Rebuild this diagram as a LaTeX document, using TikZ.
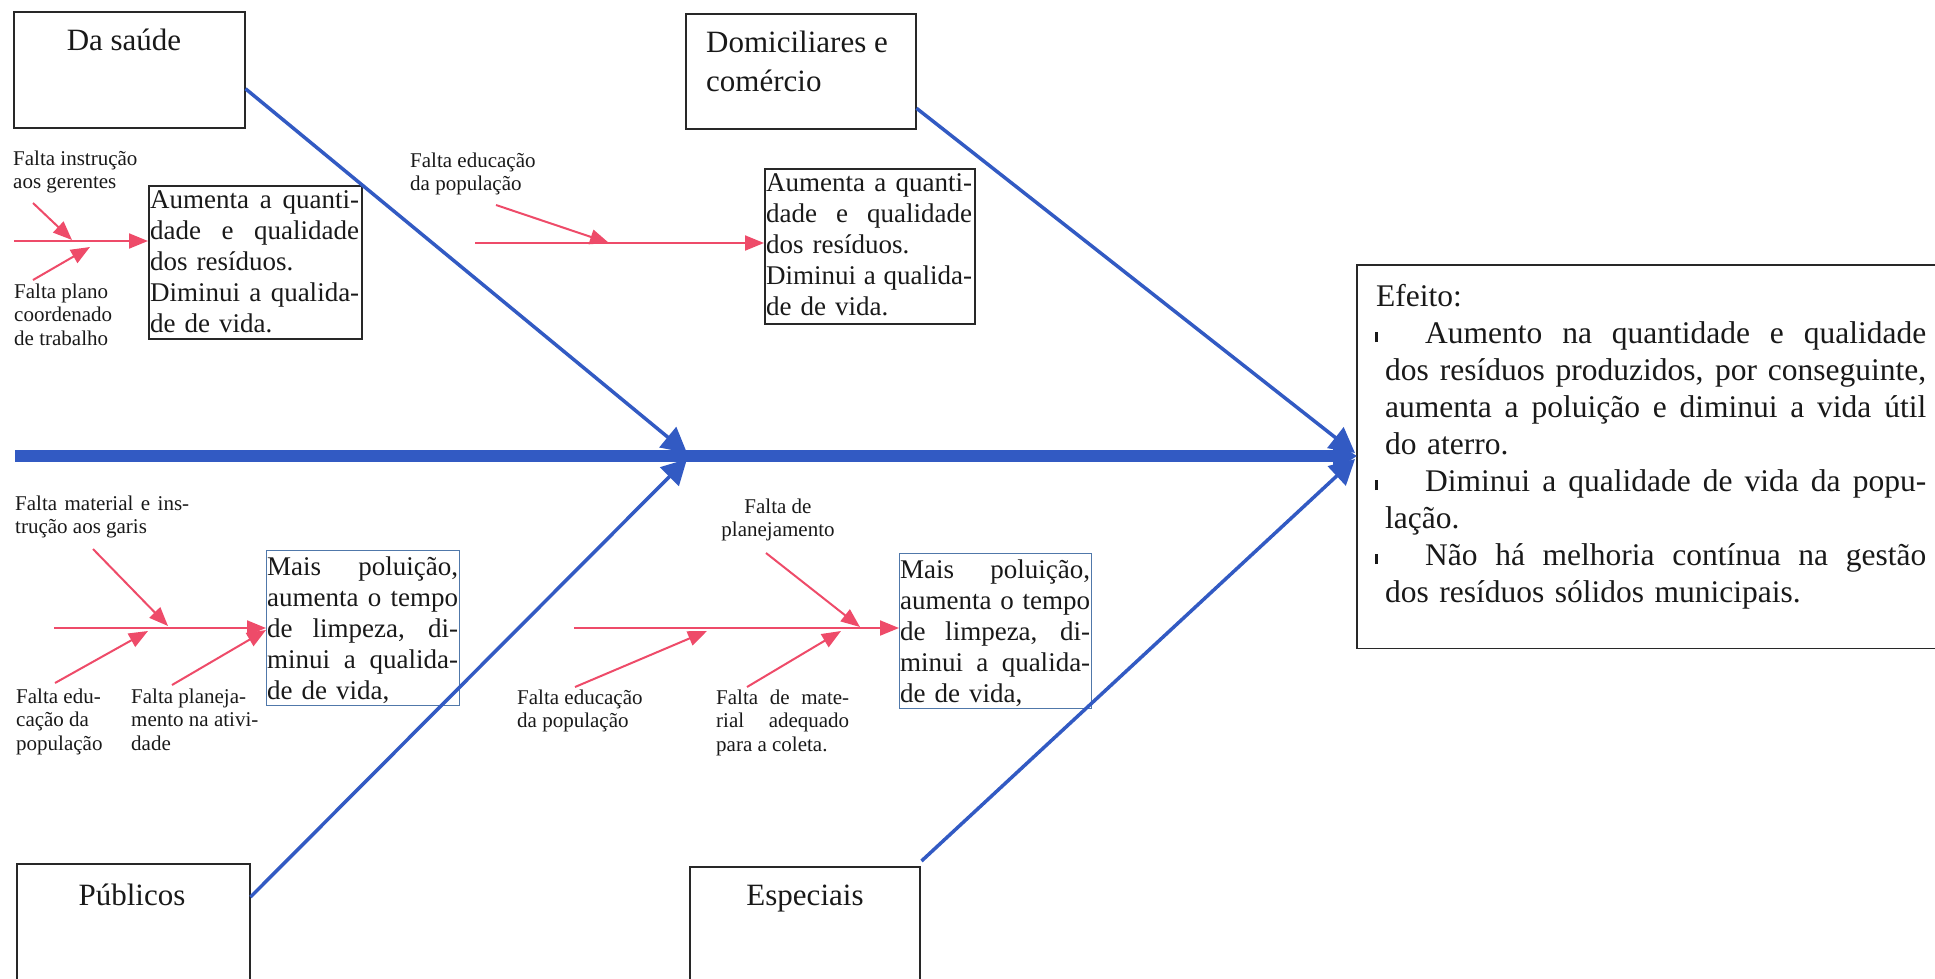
\documentclass[tikz,border=0pt]{standalone}
\usepackage{fontspec}
\setmainfont{Liberation Serif}
\usetikzlibrary{arrows.meta,calc}
\definecolor{bonecol}{RGB}{50,90,195}
\definecolor{redcol}{RGB}{238,75,105}
\definecolor{boxline}{RGB}{40,40,40}
\definecolor{bluebox}{RGB}{80,120,170}
\definecolor{txt}{RGB}{25,25,25}
\newcommand{\bul}{\hspace*{-10pt}\rule[1pt]{2.5pt}{10pt}\hspace*{47.5pt}}
\newcommand{\jl}[2]{\makebox[#1][s]{\spaceskip=0pt\xspaceskip=0pt\relax #2}}
\begin{document}
\begin{tikzpicture}[x=1pt,y=-1pt,
  every node/.style={text=txt},
  titlebox/.style={draw=boxline, line width=1.5pt, inner sep=0pt, anchor=north west},
  effbox/.style={draw=boxline, line width=1.5pt, inner sep=0pt, anchor=north west},
  effboxb/.style={draw=bluebox, line width=1pt, inner sep=0pt, anchor=north west},
  efftext/.style={anchor=north west, inner sep=0pt, align=left, font=\fontsize{27}{31}\selectfont},
  lbl/.style={anchor=north west, inner sep=0pt, align=left, font=\fontsize{21}{23.5}\selectfont},
  ttl/.style={inner sep=0pt, font=\fontsize{31}{39}\selectfont},
  bone/.style={draw=bonecol, line width=3.5pt, -{Triangle[length=25pt,width=26pt]}},
  spine/.style={draw=bonecol, line width=12pt, -{Triangle[length=24pt,width=30pt]}},
  cause/.style={draw=redcol, line width=2pt, -{Triangle[length=19pt,width=15pt]}},
]
\useasboundingbox (0,0) rectangle (1935,978);
\clip (0,0) rectangle (1935,978);

% title boxes
\node[titlebox, minimum width=231pt, minimum height=116pt] (tDa) at (13,11) {};
\node[ttl, anchor=base] (tDaT) at (124,50) {Da saúde};
\node[titlebox, minimum width=230pt, minimum height=115pt] (tDo) at (685,13) {};
\node[ttl, anchor=north west, align=left] (tDoT) at (706,24.7) {\strut Domiciliares e\\comércio};
\node[titlebox, minimum width=233pt, minimum height=130pt] (tPu) at (16,863) {};
\node[ttl, anchor=base] (tPuT) at (132,905) {Públicos};
\node[titlebox, minimum width=230pt, minimum height=130pt] (tEs) at (689,866) {};
\node[ttl, anchor=base] (tEsT) at (805,905) {Especiais};

% effect boxes
\node[effbox, minimum width=213pt, minimum height=153pt] (b1) at (148,185) {};
\node[efftext, text width=209pt] (t1) at (150,186.3) {\strut\jl{209pt}{Aumenta a quanti-}\\\jl{209pt}{dade e qualidade}\\dos resíduos.\\\jl{209pt}{Diminui a qualida-}\\de de vida.};
\node[effbox, minimum width=210pt, minimum height=155pt] (b2) at (764,168) {};
\node[efftext, text width=206pt] (t2) at (766,169.3) {\strut\jl{206pt}{Aumenta a quanti-}\\\jl{206pt}{dade e qualidade}\\dos resíduos.\\\jl{206pt}{Diminui a qualida-}\\de de vida.};
\node[effboxb, minimum width=193pt, minimum height=155pt] (b3) at (266,550) {};
\node[efftext, text width=191pt] (t3) at (267,553.3) {\strut\jl{191pt}{Mais poluição,}\\\jl{191pt}{aumenta o tempo}\\\jl{191pt}{de limpeza, di-}\\\jl{191pt}{minui a qualida-}\\de de vida,};
\node[effboxb, minimum width=192pt, minimum height=155pt] (b4) at (899,553) {};
\node[efftext, text width=190pt] (t4) at (900,556.3) {\strut\jl{190pt}{Mais poluição,}\\\jl{190pt}{aumenta o tempo}\\\jl{190pt}{de limpeza, di-}\\\jl{190pt}{minui a qualida-}\\de de vida,};

% effect (box open past the right edge of the page)
\node[inner sep=0pt, anchor=north west, minimum width=620pt, minimum height=383pt] (ef) at (1357,265) {};
\draw[draw=boxline, line width=1.5pt] (ef.north east) -- (ef.north west) -- (ef.south west) -- (ef.south east);
\node[anchor=north west, inner sep=0pt, text width=541pt, align=left, font=\fontsize{31.5}{37}\selectfont] (eft) at (1385,280.1) {\strut\hspace*{-9pt}Efeito:\\
\bul\jl{501pt}{Aumento na quantidade e qualidade}\\
\jl{541pt}{dos resíduos produzidos, por conseguinte,}\\
\jl{541pt}{aumenta a poluição e diminui a vida útil}\\
do aterro.\\
\bul\jl{501pt}{Diminui a qualidade de vida da popu-}\\
lação.\\
\bul\jl{501pt}{Não há melhoria contínua na gestão}\\
dos resíduos sólidos municipais.};

% spine and bones
\coordinate (sL) at (15,456);
\coordinate (m1) at (687,456);
\coordinate (m2) at (1355,456);
\draw[spine] (sL) -- (sL -| ef.west);
\draw[bone] ([yshift=-19pt]tDa.east) -- ([yshift=3pt]m1);
\draw[bone] ([yshift=-34pt]tPu.north east) -- ([yshift=-3pt]m1);
\draw[bone] ([yshift=-37pt]tDo.east) -- ([yshift=3pt]m2);
\draw[bone] ([xshift=1pt,yshift=5pt]tEs.north east) -- ([yshift=-3pt]m2);

% labels
\node[lbl] (l1a) at (13,148.55) {\strut Falta instrução\\aos gerentes};
\node[lbl] (l1b) at (14,281.55) {\strut Falta plano\\coordenado\\de trabalho};
\node[lbl] (l2) at (410,150.55) {\strut Falta educação\\da população};
\node[lbl] (l3a) at (15,493.55) {\strut\jl{174pt}{Falta material e ins-}\\trução aos garis};
\node[lbl] (l3b) at (16,686.55) {\strut Falta edu-\\cação da\\população};
\node[lbl] (l3c) at (131,686.55) {\strut Falta planeja-\\mento na ativi-\\dade};
\node[lbl, anchor=north, align=center] (l4a) at (778,496.55) {\strut Falta de\\planejamento};
\node[lbl] (l4b) at (517,687.55) {\strut Falta educação\\da população};
\node[lbl] (l4c) at (716,687.55) {\strut\jl{133pt}{Falta de mate-}\\\jl{133pt}{rial adequado}\\para a coleta.};

% causes group 1
\coordinate (r1s) at (14,241);
\draw[cause] (r1s) -- (r1s -| b1.west);
\coordinate (a1s) at (33,203); \coordinate (a1e) at (72,240);
\draw[cause] (a1s) -- (a1e);
\coordinate (c1s) at (33,280); \coordinate (c1e) at (90,247);
\draw[cause] (c1s) -- (c1e);
% group 2
\coordinate (r2s) at (475,243);
\draw[cause] (r2s) -- (r2s -| b2.west);
\coordinate (a2s) at (496,205); \coordinate (a2e) at (609,243);
\draw[cause] (a2s) -- (a2e);
% group 3
\coordinate (r3s) at (54,628);
\draw[cause] (r3s) -- (r3s -| b3.west);
\coordinate (a3s) at (93,549); \coordinate (a3e) at (168,626);
\draw[cause] (a3s) -- (a3e);
\coordinate (c3s) at (55,683); \coordinate (c3e) at (148,631);
\draw[cause] (c3s) -- (c3e);
\coordinate (d3s) at (172,685);
\draw[cause] (d3s) -- ([yshift=-2pt]r3s -| b3.west);
% group 4
\coordinate (r4s) at (574,628);
\draw[cause] (r4s) -- (r4s -| b4.west);
\coordinate (a4s) at (766,553); \coordinate (a4e) at (860,627);
\draw[cause] (a4s) -- (a4e);
\coordinate (c4s) at (575,687); \coordinate (c4e) at (707,631);
\draw[cause] (c4s) -- (c4e);
\coordinate (d4s) at (747,687); \coordinate (d4e) at (841,631);
\draw[cause] (d4s) -- (d4e);
\end{tikzpicture}
\end{document}
